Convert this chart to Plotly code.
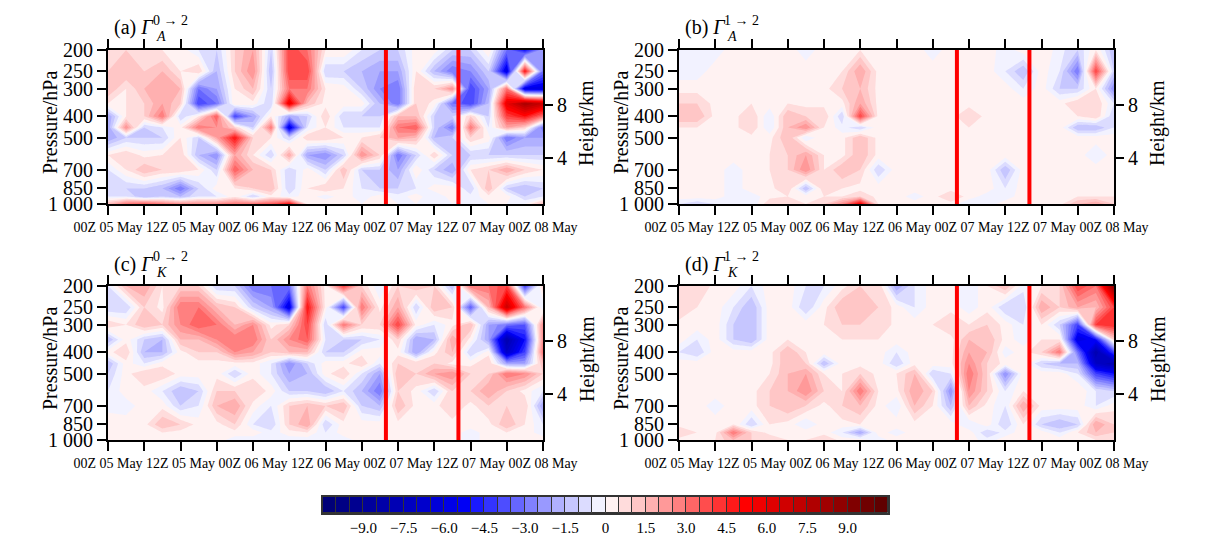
import math
import plotly.graph_objects as go

# hours after 00Z 05 May, every 3 h
hours = [0, 3, 6, 9, 12, 15, 18, 21, 24, 27, 30, 33, 36, 39, 42, 45, 48, 51, 54, 57, 60, 63, 66, 69, 72]
levels = [1000, 925, 850, 700, 600, 500, 450, 400, 350, 300, 250, 200]

# (a) Gamma_A 0->2, one row per level (1000 -> 200 hPa)
gamma_a02 = [
    [1.5, 3, 3.5, 3, 2.5, 2.5, 2.5, 3, 3, 3.5, 5, 0.5, 0.5, 0.5, 0, 0.5, 0, 0, 0, 0, 0, 0, 0, 0, 1.5],
    [-0.5, -0.5, -1.5, -1, -1.5, -0.5, -0.5, 0.3, -1, 0.3, -0.3, 0.3, -0.3, 0.3, -0.3, 0.3, -0.3, 0.3, -0.5, 0.3, -0.3, 0.3, 0.3, -1, -0.5],
    [-1, -1, -1, -1.5, -3, -1, 0.3, 0.5, 1, 1.5, -1, 0.5, 1, 0.5, -0.5, -1, -1, -0.5, 0.3, 0.3, -1, 1.5, -1, -1.5, -1],
    [-0.5, 0.5, 1.5, 1, 1, 0.5, -1, 3.5, 1.5, 1, -1, 0.3, -1, 1.5, -1, -1, -2, 0.5, -1, -2, 0.5, 1, 2, 1, 0.5],
    [0.5, 1, 0.3, 0.5, 1, -1.5, -2.5, 2, 0.5, -1, 2, -2, -2.5, -1, 2.5, 1, -3, -1, 1, -1, -1, -1, -1, -1, -1],
    [-2, -1, -1, -1, 0.5, -1, 2, 5, 1, 0.5, -1, 1, 1, 0.5, 0.5, 1, 2, 1.5, -1.5, -1, 1, 0.3, -3, -2, -2],
    [-2, 2.5, -1, -0.5, 0.3, 3, 2.5, 1, -1, 3, -6, -0.5, 0.5, -0.5, -0.5, -0.5, 3, 3.5, -1, -3, 3, -0.5, 2, 1, -3],
    [-2, 0.5, 1, 3, -1, 0.5, 3.5, -4, -2, 0.5, -2, -1, 1, -1, -1, -1, 1.5, 1.5, -1, -1, 1, -1, 4, 5, 3],
    [0.5, 0.5, 1, 2, 1, -4, -3, 0.5, 0.3, -1, 6, 1.5, 0.3, 0.3, 0.3, -1.5, -3, 1, 0.3, -3, -4, -1.5, 6, 8, 7],
    [1.5, 0.5, 1.5, 2, 1.5, -3, -2, 0.5, 1.5, -1, 3, 3, 0.5, 0.3, -1, -2.5, -3, 1, 1, 2.5, -4, -2, 3, -6, -6],
    [1, 1.5, 1, 1.5, 0.5, 1, -1.5, 1, 2.5, -1.5, 4, 4, -1, -1, -1.5, -2, -2, 0.5, -1.5, -3, -2.5, -1, -6, 5, -3],
    [1, 1, 0.5, 0.5, 0.3, -0.5, -1, 1, 2, -1, 4, 3, 0.5, 0.5, -0.5, -1, -1, 0.3, 0.3, -1, -1, 0.5, -3, -5, -2],
]

# (b) Gamma_A 1->2
gamma_a12 = [
    [-0.5, -1, -0.5, -0.5, -0.5, 1, 1, 0.5, 1, 2.5, 5.5, 0.5, 0.3, 0.3, 0.5, 0.3, -0.5, -0.3, 0.3, 0.5, 0.3, 0.3, 1.5, 2, 1],
    [0.3, 0.3, 0.3, -0.3, -0.3, 0.3, 0.5, 0.3, 0.5, 0.5, 1, 0.3, 0.3, -0.3, 0.3, 1, 0.3, -0.3, -0.3, 0.3, 0.3, 0.3, 0.5, 0.5, 0.5],
    [0.3, 0.3, 0.3, -0.3, 0.3, 0.3, 1, -1.5, 1, 0.5, 0.3, 0.3, 0.5, 0.3, 0.3, 0.3, 0.3, 0.3, -0.5, 0.3, 0.3, 0.3, 0.3, 0.3, 0.3],
    [0.3, 0.3, 0.3, -0.3, 0.3, 0.5, 1, 2.5, 0.5, 1.5, 1, -1, 0.3, 0.3, 0.3, 0.3, 0.3, 0.3, -1.5, 0.3, 0.5, 0.3, 0.3, 0.3, 0.3],
    [0.3, 0.5, 0.3, 0.3, 0.3, 0.5, 1, 2, 0.5, 0.3, 1.5, 0.3, 0.3, 0.3, 0.3, 0.3, 0.3, 0.3, 0.3, 0.3, 0.3, 0.3, 0.3, -0.5, 0.3],
    [0.3, 0.3, 0.3, 0.3, 0.3, 0.3, 1.5, -0.5, 0.5, 0.3, 1.5, 0.3, 0.3, 0.3, 0.3, 0.3, 0.3, 0.3, 0.3, 0.3, 0.3, 0.3, 0.3, 0.3, 0.3],
    [0.5, 0.5, 0.3, 0.3, 1, -0.5, 1.5, 2.5, 0.5, -0.3, -1, 0.3, 0.3, 0.3, 0.3, 0.3, 0.5, 0.3, 0.3, 0.3, 0.3, 0.3, -1.5, -1.5, -0.5],
    [1.5, 1.5, 0.3, 0.3, 1, -0.5, 1.5, 1, 1, -1, 4, 0.3, 0.3, 0.3, 0.3, 0.3, 1, 0.3, 0.3, 0.3, 0.3, 0.3, 0.5, 1, -1],
    [1, 1, 0.3, 0.3, 0.5, 0.3, 0.5, 0.3, 0.3, 0.3, 2, 0.3, 0.3, 0.3, 0.3, 0.3, 0.3, 0.3, 0.3, 0.3, 0.3, 0.3, 1, 1, -0.5],
    [0.3, 0.3, 0.3, 0.3, 0.3, 0.3, 0.3, 0.3, 0.3, 1, 1.5, 0.3, 0.3, 0.3, 0.3, 0.3, 0.3, 0.3, 0.3, -0.5, 0.3, -1, -1, 0.5, -2.5],
    [-0.3, -0.3, 0.3, 0.3, 0.3, 0.3, 0.3, 0.3, 0.3, 0.5, 2, 0.3, 0.3, 0.3, 0.3, 0.3, 0.3, 0.3, -0.5, -1.5, 0.3, -0.5, -3, 4, -1],
    [-0.3, -0.3, -0.3, 0.3, 0.3, 0.3, 0.3, -0.3, 0.3, 0.3, 0.5, 0.3, 0.3, 0.3, -0.3, 0.3, 0.3, 0.3, -0.3, 0.3, 0.5, -0.3, -1, 0.5, -1.5],
]

# (c) Gamma_K 0->2
gamma_k02 = [
    [0.3, 0.3, 0.3, 0.3, 0.3, 0.3, 0.3, -0.3, -0.3, -0.3, -0.3, -0.3, -0.3, -0.3, 0.3, 0.3, 0.3, 0.3, 0.3, 0.3, -0.3, 0.3, 0.3, 0.3, 0.3],
    [0.3, 0.3, 0.3, 0.5, 0.3, 0.3, 0.3, 0.3, 0.3, -0.3, 0.3, 0.5, -0.5, 0.3, 0.3, 0.3, 0.3, 0.3, 0.3, 0.3, -0.3, 0.3, 0.5, 0.3, -0.3],
    [0.5, 0.3, 0.3, 1.5, 1, 0.3, 0.3, 1, -0.5, -1, 1, 2, -1, 0.3, 0.3, 0.3, 0.3, 0.3, 0.3, 0.3, 0.3, 0.3, 1.5, 0.5, -0.5],
    [-0.3, -0.3, 0.3, 0.3, -1, -0.5, 1.5, 2, 0.3, -0.5, 1, 1.5, 1, 1.5, -1, -1.5, 1.5, 0.3, 0.3, 1, 0.3, 1, 1, 1, -2],
    [-0.5, 0.3, 0.3, -0.5, -1.5, -1, 1, 1, 1, 0.3, -1, -1, -1.5, -0.5, -1.5, -3, 1, 0.3, -1, 1, 1, 2, 1, 0.3, -0.5],
    [-1, 0.3, 1, 1, 0.3, 0.3, 0.3, -1, 0.3, -0.5, -2, -1.5, 0.3, 1, -0.5, -2, 1.5, 1, 2, 2.5, 1, 1, 3, 2.5, 1],
    [-1.5, 0.3, -0.5, 0.3, 0.3, 0.3, 0.3, 0.3, 0.3, -0.5, -2.5, -1, 0.3, 0.3, 1, -0.5, 1, 1, 1, 0.3, 0.3, 1, -2, -2, 1.5],
    [0.3, 1, -1.5, -1.5, 0.3, 1, 1, 2.5, 2, 1, 1.5, 1.5, -1, -1, 0.3, 0.3, 0.3, -2, 0.3, 1.5, -1, 0.3, -7, -4, 3],
    [-1.5, 0.3, -1, -1.5, 1.5, 1.5, 2.5, 3, 3, 1, 2.5, 3.5, -0.5, -1, -1, -0.5, 1, -2, -1.5, 2, 0.3, -2, -8, -5, 2.5],
    [1, 0.5, 1.5, 1, 2.5, 3.5, 3, 1.5, 2.5, 0.3, 1, 4, -1, 3, 1, 1, 4, 0.3, -0.5, 0.3, 1.5, -2, -3, -3.5, 2.5],
    [-1, -1, 1, 0.3, 3, 3, 1.5, 1, -1, -2, -6, 5, 0.3, -4, 3, 0.3, 2, -1, 1.5, 1, -3.5, 1.5, 7, 3, -0.5],
    [-0.5, 1.5, 2, 0.5, 1, 1, -1, -1, -3, -3, -3, 3, 0.3, 4, 1, -0.5, 1, 1.5, 1, -1.5, 3, 3, 4, -4, 1],
]

# (d) Gamma_K 1->2
gamma_k12 = [
    [0.3, 0.5, 0.5, 1.5, 1, 1, 0.5, 0.5, 1, 0.3, 0.3, -0.3, 0.3, 0.3, 0.3, 0.3, 0.3, -0.3, 0.3, 0.3, 0.3, 0.3, 0.3, 0.5, 0.5],
    [1, 0.5, 0.3, 3, 1, 0.3, 0.3, 0.3, 0.3, -0.5, -2, 0.3, -0.3, 0.3, 0.3, 0.3, 0.3, -1, -0.3, 0.3, 0.3, -0.5, 0.5, 1.5, 1],
    [0.3, 0.3, 0.3, 0.5, -1, 0.5, 0.3, -0.5, 0.3, 0.3, 0.5, 0.5, 0.3, 0.3, 0.3, 0.3, -0.5, 0.3, -1, 0.5, -1, -1.5, -1, 2, 1],
    [0.3, 0.3, -0.3, 0.3, 0.3, 1, 1.5, 1, 0.3, 1, 1.5, 0.3, -0.5, 1.5, 0.5, -1.5, 1.5, 0.3, -0.5, 2, 0.3, 0.3, 0.3, -0.5, 0.3],
    [0.3, 0.3, 0.3, 0.3, 0.3, 1, 1.5, 2.5, 1, 0.5, 3, 0.5, 0.3, 2, 1, -2.5, 2.5, 1, -0.5, 0.5, 0.5, 0.3, 0.5, -0.5, -1],
    [0.3, 0.3, 0.3, 0.3, 0.3, 0.5, 1.5, 2, 0.5, 0.5, 1, 0.3, 0.5, 1.5, -1, -0.5, 3, 1, -2.5, 0.3, 0.3, 0.3, -0.5, -4, -5],
    [0.3, 0.3, 0.3, 0.3, 0.3, 0.3, 1.5, 1, -1.5, 0.3, 0.3, 0.3, -1, 0.3, 0.3, 0.3, 2.5, 1, 0.3, 0.3, -1, -1.5, -1.5, -7, -8],
    [-0.5, -1, 0.3, 0.3, 0.3, 0.3, 1.5, 0.5, 0.3, 0.3, 0.5, 0.3, -0.5, 0.3, 0.3, 0.3, 2, 1.5, -0.3, 0.3, 1, 3, -3, -8, -4],
    [0.3, -0.5, 0.3, -1, -1.5, 0.3, 0.5, 0.3, 0.3, 0.5, 0.5, 0.5, 0.3, 0.3, 0.3, 0.3, 1.5, 1.5, 0.3, -0.3, 0.5, 0.5, -6, -5, 1],
    [0.3, 0.3, 0.3, -1, -1.5, 0.3, 0.5, 0.3, 0.5, 1, 1, 1, 0.3, 0.3, 0.5, 1, 0.5, 1, 0.3, -0.5, 0.5, -1, -4, 4, 4.5],
    [1, 0.5, 0.3, -0.5, -1.5, 0.3, 0.3, -1, 0.3, 1.5, 1.5, 1, 0.3, -0.5, 0.3, 0.3, -0.3, 0.3, -1, -1, 2, 1, 2, 1.5, 4],
    [0.5, 1, 0.3, 0.3, -0.5, 0.3, 0.3, -0.5, -0.5, 0.3, 1, 1, -2, -0.5, 0.3, 0.3, -0.5, 0.5, 1.5, -0.3, 0.5, 1, 4, 3, 9],
]

red_lines = [46, 58]   # hours of the two marked times

time_ticks = [0, 6, 12, 18, 24, 30, 36, 42, 48, 54, 60, 66, 72]
time_labels = ['00Z 05 May', '', '12Z 05 May', '', '00Z 06 May', '', '12Z 06 May', '',
               '00Z 07 May', '', '12Z 07 May', '', '00Z 08 May']
p_ticks = [200, 250, 300, 400, 500, 700, 850, 1000]
p_labels = ['200', '250', '300', '400', '500', '700', '850', '1 000']
height_ticks = [4, 8]

cbar_ticks = [-9, -7.5, -6, -4.5, -3, -1.5, 0, 1.5, 3, 4.5, 6, 7.5, 9]
cbar_labels = ['\u22129.0', '\u22127.5', '\u22126.0', '\u22124.5', '\u22123.0', '\u22121.5', '0',
               '1.5', '3.0', '4.5', '6.0', '7.5', '9.0']

colors = ['#000078', '#000084', '#000090', '#00009c', '#0000a8', '#0000b4', '#0000c0',
          '#0000cc', '#0000d8', '#0000e6', '#0000f5', '#1a1aff', '#3333ff', '#4d4dff',
          '#6666ff', '#8080ff', '#9999ff', '#b0b0ff', '#c6c6ff', '#dcdcff', '#f2f2ff',
          '#fff2f2', '#ffdcdc', '#ffc6c6', '#ffb0b0', '#ff9999', '#ff8080', '#ff6666',
          '#ff4d4d', '#ff3333', '#ff1a1a', '#ff0000', '#f00000', '#e00000', '#d00000',
          '#c00000', '#b00000', '#a00000', '#900000', '#800000', '#700000', '#600000']

# %%
# the page body keeps an 8 px margin, so the figure is drawn 8 px smaller
OFF = 8
W, H = 1214 - OFF, 542 - OFF
n = len(colors)
cscale = []
for k, c in enumerate(colors):
    cscale.append([max(0, (k - 0.5) / (n - 1)), c])
    cscale.append([min(1, (k + 0.5) / (n - 1)), c])


def std_pressure(h_km):
    return 1013.25 * (1 - 2.25577e-5 * h_km * 1000) ** 5.25588


def px(x):
    return (x - OFF) / W


def py(y):
    return 1 - (y - OFF) / H


FONT = 'Liberation Serif'
panels = [
    # data, axis suffix, left, top, letter, sub, sup
    (gamma_a02, '', 108, 50, 'a', 'A', '0 \u2192 2'),
    (gamma_a12, '2', 679, 50, 'b', 'A', '1 \u2192 2'),
    (gamma_k02, '3', 108, 286, 'c', 'K', '0 \u2192 2'),
    (gamma_k12, '4', 679, 286, 'd', 'K', '1 \u2192 2'),
]
pw, ph = 435, 154

fig = go.Figure()
shapes = []
annotations = []
p_range = [math.log10(1000), math.log10(200)]
for i, (z, s, left, top, letter, sub, sup) in enumerate(panels):
    fig.add_trace(go.Contour(
        x=hours, y=levels, z=z, xaxis='x' + s, yaxis='y' + s,
        colorscale=cscale, showscale=False, hoverinfo='skip',
        contours=dict(start=-10, end=10, size=0.5, coloring='fill'),
        line=dict(width=0, smoothing=0)))
    hname = 'y' + str(5 + i)
    fig.add_trace(go.Scatter(x=[36], y=[500], xaxis='x' + s, yaxis=hname, mode='markers',
                             marker=dict(opacity=0), hoverinfo='skip', showlegend=False))
    xdom = [px(left), px(left + pw)]
    ydom = [py(top + ph), py(top)]
    fig.layout['xaxis' + s] = dict(
        domain=xdom, anchor='y' + s, range=[0, 72], tickvals=time_ticks, ticktext=time_labels,
        ticks='outside', ticklen=9, tickwidth=2, tickcolor='black', showline=True,
        linewidth=2, linecolor='black', mirror='allticks', showgrid=False, zeroline=False,
        tickangle=0, automargin=False, tickfont=dict(size=14, family=FONT, color='black'))
    fig.layout['yaxis' + s] = dict(
        domain=ydom, anchor='x' + s, type='log', range=p_range, tickvals=p_ticks,
        ticktext=p_labels, ticks='outside', ticklen=9, tickwidth=2, tickcolor='black',
        showline=True, linewidth=2, linecolor='black', mirror=True, showgrid=False,
        zeroline=False, automargin=False, tickfont=dict(size=20, family=FONT, color='black'))
    fig.layout['yaxis' + str(5 + i)] = dict(
        overlaying='y' + s, anchor='x' + s, side='right', type='log', range=p_range,
        tickvals=[std_pressure(h) for h in height_ticks], ticktext=[str(h) for h in height_ticks],
        ticks='outside', ticklen=9, tickwidth=2, tickcolor='black', showline=False,
        showgrid=False, zeroline=False, automargin=False,
        tickfont=dict(size=20, family=FONT, color='black'))
    for t in red_lines:
        shapes.append(dict(type='line', xref='x' + s, yref='y' + s + ' domain', x0=t, x1=t,
                           y0=0, y1=1, line=dict(color='#ff0000', width=4)))
    # panel title
    annotations.append(dict(x=px(left + 4), y=py(top - 22), xref='paper', yref='paper',
                            xanchor='left', yanchor='middle', showarrow=False,
                            text='(' + letter + ') <i>\u0393</i>',
                            font=dict(size=20, family=FONT, color='black')))
    annotations.append(dict(x=px(left + 43), y=py(top - 29), xref='paper', yref='paper',
                            xanchor='left', yanchor='middle', showarrow=False, text=sup,
                            font=dict(size=14, family=FONT, color='black')))
    annotations.append(dict(x=px(left + 46), y=py(top - 14), xref='paper', yref='paper',
                            xanchor='left', yanchor='middle', showarrow=False,
                            text='<i>' + sub + '</i>',
                            font=dict(size=14, family=FONT, color='black')))
    # axis titles
    annotations.append(dict(x=px(left - 58), y=py(top + ph / 2 - 4), xref='paper', yref='paper',
                            xanchor='center', yanchor='middle', showarrow=False,
                            textangle=-90, text='Pressure/hPa',
                            font=dict(size=20, family=FONT, color='black')))
    annotations.append(dict(x=px(left + pw + 44), y=py(top + ph / 2 - 4), xref='paper',
                            yref='paper', xanchor='center', yanchor='middle', showarrow=False,
                            textangle=-90, text='Height/km',
                            font=dict(size=20, family=FONT, color='black')))

# colour bar drawn as boxes
centers = [-10.25 + 0.5 * k for k in range(n)]
fig.add_trace(go.Bar(x=centers, y=[1] * n, width=0.5, xaxis='x5', yaxis='y9',
                     marker=dict(color=colors, line=dict(color='#333333', width=1)),
                     hoverinfo='skip', showlegend=False))
fig.layout['xaxis5'] = dict(domain=[px(323), px(888)], anchor='y9', range=[-10.5, 10.5],
                            tickvals=cbar_ticks, ticktext=cbar_labels, ticks='',
                            showline=True, linewidth=1.5, linecolor='#333333', mirror=True,
                            showgrid=False, zeroline=False, automargin=False,
                            tickfont=dict(size=15, family=FONT, color='black'))
fig.layout['yaxis9'] = dict(domain=[py(513), py(497)], anchor='x5', range=[0, 1],
                            showticklabels=False, ticks='', showline=True, linewidth=1.5,
                            linecolor='#333333', mirror=True, showgrid=False, zeroline=False,
                            automargin=False)

fig.update_layout(width=W, height=H, margin=dict(l=0, r=0, t=0, b=0, autoexpand=False),
                  paper_bgcolor='white', plot_bgcolor='white', showlegend=False,
                  bargap=0, shapes=shapes, annotations=annotations,
                  font=dict(family=FONT, color='black'))
fig.write_html("out.html")
